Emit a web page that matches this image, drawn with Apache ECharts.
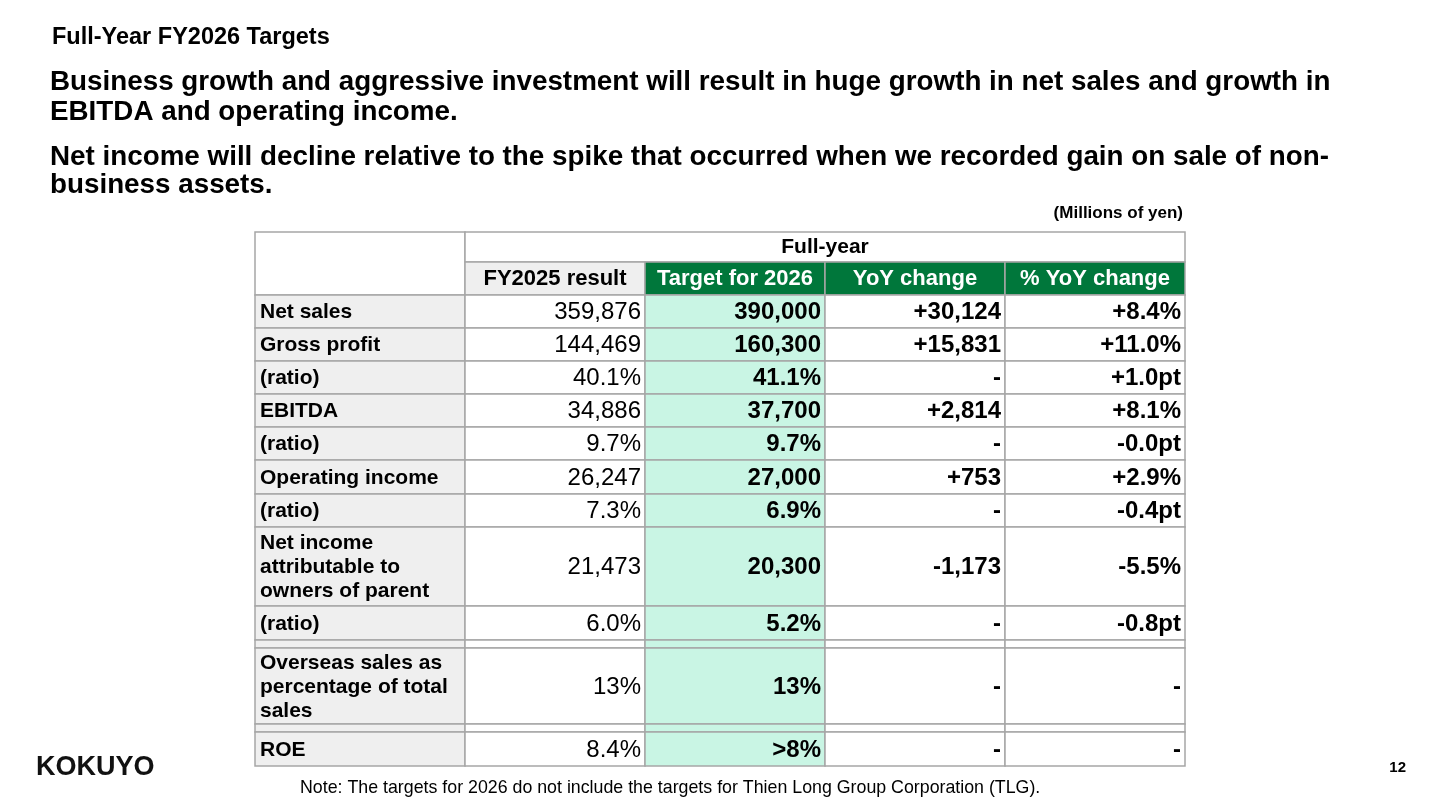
<!DOCTYPE html>
<html><head><meta charset="utf-8">
<script src="https://cdn.jsdelivr.net/npm/echarts@6/dist/echarts.min.js"></script>
<style>html,body{margin:0;padding:0;background:#fff}#c{width:1440px;height:810px}</style>
</head><body><div id="c"></div>
<script>
const rowLabels = ["Net sales","Gross profit","(ratio)","EBITDA","(ratio)","Operating income","(ratio)","Net income\nattributable to\nowners of parent","(ratio)","","Overseas sales as\npercentage of total\nsales","","ROE"];
const fy2025 = ["359,876","144,469","40.1%","34,886","9.7%","26,247","7.3%","21,473","6.0%","","13%","","8.4%"];
const target2026 = ["390,000","160,300","41.1%","37,700","9.7%","27,000","6.9%","20,300","5.2%","","13%","",">8%"];
const yoyChange = ["+30,124","+15,831","-","+2,814","-","+753","-","-1,173","-","","-","","-"];
const yoyPct = ["+8.4%","+11.0%","+1.0pt","+8.1%","-0.0pt","+2.9%","-0.4pt","-5.5%","-0.8pt","","-","","-"];
const colHeaders = ["FY2025 result","Target for 2026","YoY change","% YoY change"];
const rowHeights = [33,33,33,33,33,34,33,79,34,8,76,8,34];

const colX = [255,465,645,825,1005,1185];
const FONT = "Liberation Sans, Arial, sans-serif";
const border = '#a6a6a6';
const els = [];
function rect(x,y,w,h,fill){els.push({type:'rect',shape:{x,y,width:w,height:h},style:{fill,stroke:border,lineWidth:1.5}});}
function text(x,y,t,size,bold,align,fill,lh){els.push({type:'text',x,y,style:{text:t,font:(bold?'bold ':'')+size+'px '+FONT,fill:fill||'#000',align:align||'left',verticalAlign:'middle',lineHeight:lh||Math.round(size*1.15)}});}

rect(colX[0],232,colX[1]-colX[0],63,'#fff');
rect(colX[1],232,colX[5]-colX[1],30,'#fff');
text((colX[1]+colX[5])/2,247,'Full-year',21,true,'center');
colHeaders.forEach((h,i)=>{
  const x=colX[i+1],w=colX[i+2]-x;
  rect(x,262,w,33,i===0?'#efefef':'#00773b');
  text(x+w/2,279,h,22,true,'center',i===0?'#000':'#fff');
});
let y=295;
rowLabels.forEach((lab,r)=>{
  const h=rowHeights[r];
  const cols=[fy2025[r],target2026[r],yoyChange[r],yoyPct[r]];
  rect(colX[0],y,colX[1]-colX[0],h,'#efefef');
  for(let c=0;c<4;c++){
    const x=colX[c+1],w=colX[c+2]-x;
    rect(x,y,w,h,c===1?'#c9f5e4':'#fff');
    if(cols[c]) text(x+w-4,y+h/2+1,cols[c],24,c>0,'right');
  }
  if(lab) text(colX[0]+5,y+h/2+1,lab,21,true,'left','#000',24);
  y+=h;
});

text(52,38,'Full-Year FY2026 Targets',23.5,true);
text(50,82,'Business growth and aggressive investment will result in huge growth in net sales and growth in',27.8,true);
text(50,112,'EBITDA and operating income.',27.8,true);
text(50,157,'Net income will decline relative to the spike that occurred when we recorded gain on sale of non-',27.8,true);
text(50,185,'business assets.',27.8,true);
text(1183,213,'(Millions of yen)',17,true,'right');
text(300,788,'Note: The targets for 2026 do not include the targets for Thien Long Group Corporation (TLG).',17.8,false);
text(36,768,'KOKUYO',27,true,'left','#111');
text(1406,768,'12',15,true,'right');

const chart=echarts.init(document.getElementById('c'));
chart.setOption({animation:false,graphic:{elements:els}});
</script></body></html>
